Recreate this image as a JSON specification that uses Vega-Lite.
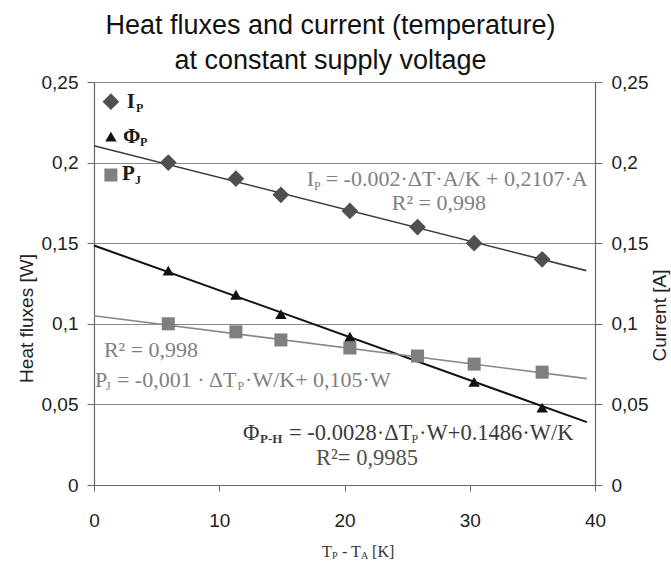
{
  "$schema": "https://vega.github.io/schema/vega-lite/v6.json",
  "width": 501,
  "height": 403,
  "autosize": {"type": "none"},
  "padding": {"left": 94, "top": 82, "right": 76, "bottom": 78},
  "background": "white",
  "config": {"view": {"stroke": null}, "font": "Liberation Sans"},
  "title": {
    "text": ["Heat fluxes and current (temperature)", "at constant supply voltage"],
    "font": "Liberation Sans",
    "fontSize": 27,
    "fontWeight": "normal",
    "color": "#111111",
    "anchor": "middle",
    "lineHeight": 35,
    "offset": -2,
    "dx": -14
  },
  "datasets": {
    "ip": [
      {"x": 5.93, "y": 0.2}, {"x": 11.33, "y": 0.19}, {"x": 14.92, "y": 0.18},
      {"x": 20.43, "y": 0.17}, {"x": 25.83, "y": 0.16}, {"x": 30.35, "y": 0.15},
      {"x": 35.78, "y": 0.14}
    ],
    "phi": [
      {"x": 5.93, "y": 0.133}, {"x": 11.33, "y": 0.118}, {"x": 14.92, "y": 0.106},
      {"x": 20.43, "y": 0.092}, {"x": 30.35, "y": 0.064}, {"x": 35.78, "y": 0.048}
    ],
    "pj": [
      {"x": 5.93, "y": 0.1}, {"x": 11.33, "y": 0.095}, {"x": 14.92, "y": 0.09},
      {"x": 20.43, "y": 0.085}, {"x": 25.83, "y": 0.08}, {"x": 30.35, "y": 0.075},
      {"x": 35.78, "y": 0.07}
    ],
    "ipFit": [{"x": 0, "y": 0.2105}, {"x": 39.3, "y": 0.133}],
    "phiFit": [{"x": 0, "y": 0.1486}, {"x": 39.35, "y": 0.039}],
    "pjFit": [{"x": 0, "y": 0.105}, {"x": 39.35, "y": 0.066}],
    "legD": [{"x": 1.35, "y": 0.2378}],
    "legT": [{"x": 1.35, "y": 0.2161}],
    "legS": [{"x": 1.35, "y": 0.1923}],
    "legText": [
      {"x": 2.61, "y": 0.2376, "t": "I"},
      {"x": 2.32, "y": 0.2161, "t": "Φ"},
      {"x": 2.24, "y": 0.1929, "t": "P"}
    ],
    "legSub": [
      {"x": 3.35, "y": 0.2339, "t": "P"},
      {"x": 3.67, "y": 0.2128, "t": "P"},
      {"x": 3.27, "y": 0.1892, "t": "J"}
    ],
    "eqGray": [
      {"x": 16.98, "y": 0.1898, "t": "I"},
      {"x": 18.5, "y": 0.1898, "t": "= -0.002·ΔT·A/K + 0,2107·A"},
      {"x": 0.08, "y": 0.0651, "t": "P"},
      {"x": 1.83, "y": 0.0651, "t": "= -0,001 · ΔT"},
      {"x": 12.06, "y": 0.0651, "t": "·W/K+ 0,105·W"}
    ],
    "eqGraySub": [
      {"x": 17.56, "y": 0.1855, "t": "P"},
      {"x": 0.96, "y": 0.0614, "t": "J"},
      {"x": 11.46, "y": 0.0614, "t": "P"}
    ],
    "r2Gray": [
      {"x": 27.54, "y": 0.1749, "t": "R² = 0,998"},
      {"x": 4.55, "y": 0.0837, "t": "R² = 0,998"}
    ],
    "eqDark": [
      {"x": 11.9, "y": 0.0323, "t": "Φ"},
      {"x": 15.57, "y": 0.0323, "t": "= -0.0028·ΔT"},
      {"x": 25.95, "y": 0.0323, "t": "·W+0.1486·W/K"}
    ],
    "eqDarkSubBold": [{"x": 13.25, "y": 0.0285, "t": "P-H"}],
    "eqDarkSub": [{"x": 25.35, "y": 0.0285, "t": "P"}],
    "r2Dark": [{"x": 21.8, "y": 0.0167, "t": "R²= 0,9985"}],
    "xTitle": [
      {"x": 18.2, "y": -0.0415, "t": "T"},
      {"x": 19.8, "y": -0.0415, "t": "- T"},
      {"x": 22.2, "y": -0.0415, "t": "[K]"}
    ],
    "xTitleSub": [
      {"x": 19.0, "y": -0.044, "t": "P"},
      {"x": 21.32, "y": -0.044, "t": "A"}
    ]
  },
  "encoding": {
    "x": {
      "field": "x", "type": "quantitative",
      "scale": {"domain": [0, 40], "nice": false},
      "axis": {
        "values": [0, 10, 20, 30, 40], "title": null, "grid": false,
        "labelFont": "Liberation Sans", "labelFontSize": 19, "labelColor": "#222222",
        "labelPadding": 20, "tickSize": 6, "tickColor": "#666666",
        "domainColor": "#666666", "domainWidth": 1.2, "labelFlush": false
      }
    }
  },
  "layer": [
    {
      "encoding": {
        "y": {
          "field": "y", "type": "quantitative",
          "scale": {"domain": [0, 0.25], "nice": false},
          "axis": {
            "values": [0, 0.05, 0.1, 0.15, 0.2, 0.25],
            "labelExpr": "replace(format(datum.value, '.2~f'), '.', ',')",
            "title": "Heat fluxes [W]", "titleFont": "Liberation Sans", "titleFontSize": 19,
            "titleFontWeight": "normal", "titleColor": "#222222", "titlePadding": 5, "titleY": 236,
            "labelFont": "Liberation Sans", "labelFontSize": 19, "labelColor": "#222222",
            "labelPadding": 9, "tickSize": 7, "tickColor": "#666666",
            "domainColor": "#666666", "domainWidth": 1.2,
            "grid": true, "gridColor": "#8a8a8a", "gridWidth": 1.2, "labelFlush": false
          }
        }
      },
      "layer": [
        {"data": {"name": "phiFit"}, "mark": {"type": "line", "color": "#111111", "strokeWidth": 2}},
        {"data": {"name": "pjFit"}, "mark": {"type": "line", "color": "#888888", "strokeWidth": 1.6}},
        {"data": {"name": "phi"}, "mark": {"type": "point", "shape": "triangle-up", "filled": true, "size": 130, "color": "#111111", "opacity": 1}},
        {"data": {"name": "pj"}, "mark": {"type": "point", "shape": "square", "filled": true, "size": 170, "color": "#7f7f7f", "opacity": 1}},
        {"data": {"name": "legD"}, "mark": {"type": "point", "shape": "diamond", "filled": true, "size": 280, "color": "#505050", "opacity": 1}},
        {"data": {"name": "legT"}, "mark": {"type": "point", "shape": "triangle-up", "filled": true, "size": 130, "color": "#111111", "opacity": 1}},
        {"data": {"name": "legS"}, "mark": {"type": "point", "shape": "square", "filled": true, "size": 170, "color": "#7f7f7f", "opacity": 1}},
        {"data": {"name": "legText"}, "mark": {"type": "text", "font": "Liberation Serif", "fontSize": 21, "fontWeight": "bold", "color": "#1a1a1a", "align": "left", "baseline": "middle"}, "encoding": {"text": {"field": "t"}}},
        {"data": {"name": "legSub"}, "mark": {"type": "text", "font": "Liberation Serif", "fontSize": 12, "fontWeight": "bold", "color": "#1a1a1a", "align": "left", "baseline": "middle"}, "encoding": {"text": {"field": "t"}}},
        {"data": {"name": "eqGray"}, "mark": {"type": "text", "font": "Liberation Serif", "fontSize": 22, "color": "#808080", "align": "left", "baseline": "middle"}, "encoding": {"text": {"field": "t"}}},
        {"data": {"name": "eqGraySub"}, "mark": {"type": "text", "font": "Liberation Serif", "fontSize": 12, "color": "#808080", "align": "left", "baseline": "middle"}, "encoding": {"text": {"field": "t"}}},
        {"data": {"name": "r2Gray"}, "mark": {"type": "text", "font": "Liberation Serif", "fontSize": 22, "color": "#808080", "align": "center", "baseline": "middle"}, "encoding": {"text": {"field": "t"}}},
        {"data": {"name": "eqDark"}, "mark": {"type": "text", "font": "Liberation Serif", "fontSize": 22.5, "color": "#3a3a3a", "align": "left", "baseline": "middle"}, "encoding": {"text": {"field": "t"}}},
        {"data": {"name": "eqDarkSubBold"}, "mark": {"type": "text", "font": "Liberation Serif", "fontSize": 13, "fontWeight": "bold", "color": "#3a3a3a", "align": "left", "baseline": "middle"}, "encoding": {"text": {"field": "t"}}},
        {"data": {"name": "eqDarkSub"}, "mark": {"type": "text", "font": "Liberation Serif", "fontSize": 12, "color": "#3a3a3a", "align": "left", "baseline": "middle"}, "encoding": {"text": {"field": "t"}}},
        {"data": {"name": "r2Dark"}, "mark": {"type": "text", "font": "Liberation Serif", "fontSize": 22.5, "color": "#505050", "align": "center", "baseline": "middle"}, "encoding": {"text": {"field": "t"}}},
        {"data": {"name": "xTitle"}, "mark": {"type": "text", "font": "Liberation Serif", "fontSize": 16, "color": "#333333", "align": "left", "baseline": "middle"}, "encoding": {"text": {"field": "t"}}},
        {"data": {"name": "xTitleSub"}, "mark": {"type": "text", "font": "Liberation Serif", "fontSize": 10, "color": "#333333", "align": "left", "baseline": "middle"}, "encoding": {"text": {"field": "t"}}}
      ]
    },
    {
      "encoding": {
        "y": {
          "field": "y", "type": "quantitative",
          "scale": {"domain": [0, 0.25], "nice": false},
          "axis": {
            "orient": "right",
            "values": [0, 0.05, 0.1, 0.15, 0.2, 0.25],
            "labelExpr": "replace(format(datum.value, '.2~f'), '.', ',')",
            "title": "Current [A]", "titleFont": "Liberation Sans", "titleFontSize": 19,
            "titleFontWeight": "normal", "titleColor": "#222222", "titlePadding": 3, "titleY": 233,
            "titleAngle": -90, "titleBaseline": "top",
            "labelFont": "Liberation Sans", "labelFontSize": 19, "labelColor": "#222222",
            "labelPadding": 9, "tickSize": 7, "tickColor": "#666666",
            "domainColor": "#666666", "domainWidth": 1.2, "grid": false, "labelFlush": false
          }
        }
      },
      "layer": [
        {"data": {"name": "ipFit"}, "mark": {"type": "line", "color": "#3c3c3c", "strokeWidth": 1.6}},
        {"data": {"name": "ip"}, "mark": {"type": "point", "shape": "diamond", "filled": true, "size": 280, "color": "#505050", "opacity": 1}}
      ]
    }
  ],
  "resolve": {"scale": {"y": "independent"}}
}
